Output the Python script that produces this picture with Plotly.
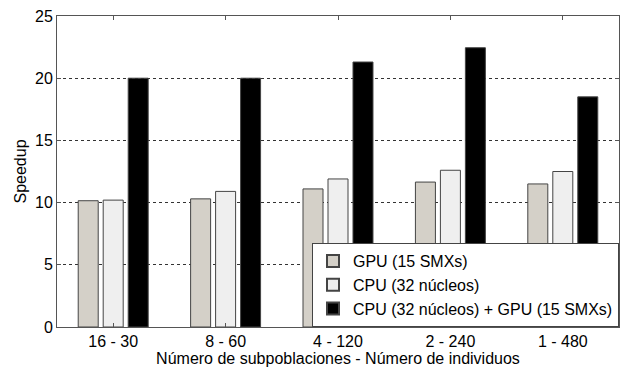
import plotly.graph_objects as go

categories = ["16 - 30", "8 - 60", "4 - 120", "2 - 240", "1 - 480"]
gpu = [10.15, 10.3, 11.1, 11.65, 11.5]
cpu = [10.2, 10.9, 11.9, 12.6, 12.5]
both = [20.0, 20.0, 21.3, 22.45, 18.5]
names = ["GPU (15 SMXs)", "CPU (32 núcleos)", "CPU (32 núcleos) + GPU (15 SMXs)"]
colors = ["#d4d0c8", "#efefef", "#000000"]
y_ticks = [0, 5, 10, 15, 20, 25]

fig = go.Figure()
for vals, name, col in zip([gpu, cpu, both], names, colors):
    fig.add_trace(go.Bar(
        x=categories, y=vals, name=name,
        marker=dict(color=col, line=dict(color="#444444", width=1)),
    ))

font = dict(family="Liberation Sans", size=16, color="#000000")
fig.update_layout(
    width=625, height=370,
    margin=dict(l=57, r=6, t=16, b=43),
    paper_bgcolor="white", plot_bgcolor="white",
    barmode="group", bargap=0.333, bargroupgap=0.2,
    font=font,
    showlegend=True,
    legend=dict(
        x=1, y=0, xanchor="right", yanchor="bottom",
        bgcolor="white", bordercolor="#444444", borderwidth=1,
        font=dict(family="Liberation Sans", size=16, color="#000000"),
        tracegroupgap=0, itemsizing="constant",
    ),
    xaxis=dict(
        title=dict(text="Número de subpoblaciones - Número de individuos", standoff=0, font=font),
        showline=True, linecolor="#555555", linewidth=1, mirror="ticks",
        ticks="inside", ticklen=4, tickcolor="#555555",
        showgrid=False, range=[-0.5, 4.5], tickfont=font,
    ),
    yaxis=dict(
        title=dict(text="Speedup", standoff=4, font=font),
        range=[0, 25], tickvals=y_ticks,
        showline=True, linecolor="#555555", linewidth=1, mirror="ticks",
        ticks="inside", ticklen=4, tickcolor="#555555",
        showgrid=True, gridcolor="#333333", griddash="dot", gridwidth=1,
        zeroline=False, tickfont=font,
    ),
)

fig.write_html("out.html")
